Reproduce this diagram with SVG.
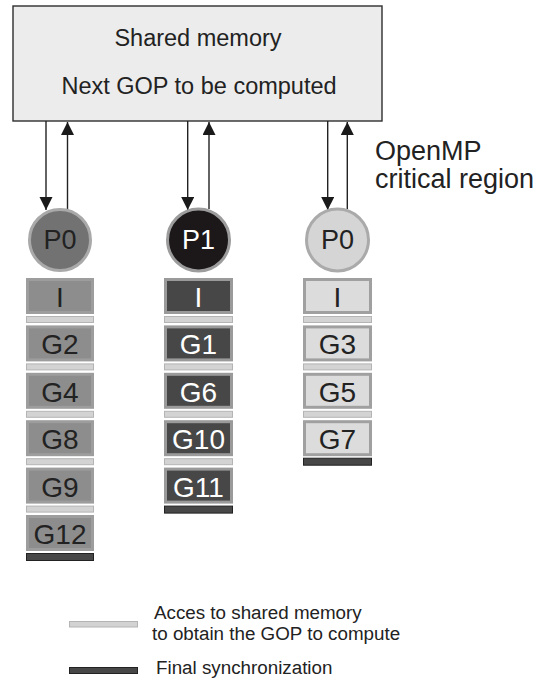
<svg xmlns="http://www.w3.org/2000/svg" width="555" height="681" viewBox="0 0 555 681">
  <style>
    text { font-family: "Liberation Sans", Arial, sans-serif; }
    .mem { fill: #ececec; stroke: #2e2e2e; stroke-width: 1.4; }
    .memtxt { font-size: 23.5px; fill: #222; text-anchor: middle; }
    .note { font-size: 27px; fill: #222; }
    .link { stroke: #222; stroke-width: 1.4; fill: none; marker-end: url(#tip); }
    .ptxt { font-size: 27px; text-anchor: middle; }
    .btxt { font-size: 28px; text-anchor: middle; }
    .c0 .node { fill: #727272; stroke: #a9a9a9; stroke-width: 3; }
    .c1 .node { fill: #1c1819; stroke: #9c9c9c; stroke-width: 3; }
    .c2 .node { fill: #d5d5d5; stroke: #aaaaaa; stroke-width: 3; }
    .c0 .blk { fill: #8d8d8d; stroke: #9d9d9d; stroke-width: 3; }
    .c1 .blk { fill: #474747; stroke: #9a9a9a; stroke-width: 3; }
    .c2 .blk { fill: #dcdcdc; stroke: #a0a0a0; stroke-width: 3; }
    .c0 text, .c2 text { fill: #222; }
    .c1 text { fill: #fff; }
    .acc { fill: #d3d3d3; stroke: #b4b4b4; stroke-width: 1; }
    .sync { fill: #474747; stroke: #222; stroke-width: 1; }
    .leg { font-size: 18.8px; fill: #222; }
  </style>
  <defs>
    <marker id="tip" markerUnits="userSpaceOnUse" markerWidth="14" markerHeight="14" refX="13" refY="6.5" orient="auto">
      <path d="M0,0 L13,6.5 L0,13 z" fill="#1a1a1a"/>
    </marker>
  </defs>

  <!-- shared memory -->
  <g id="shared-memory">
    <rect class="mem" x="13" y="6" width="369" height="115"/>
    <text class="memtxt" x="198" y="46">Shared memory</text>
    <text class="memtxt" x="199" y="94">Next GOP to be computed</text>
  </g>

  <g id="critical-label">
    <text class="note" x="375" y="160">OpenMP</text>
    <text class="note" x="375" y="188">critical region</text>
  </g>

  <!-- critical region accesses -->
  <g id="connectors">
    <line class="link" x1="46" y1="121" x2="46" y2="210"/>
    <line class="link" x1="67.5" y1="210" x2="67.5" y2="122"/>
    <line class="link" x1="187.7" y1="121" x2="187.7" y2="210"/>
    <line class="link" x1="209" y1="209" x2="209" y2="122"/>
    <line class="link" x1="327.7" y1="121" x2="327.7" y2="210"/>
    <line class="link" x1="347.3" y1="209" x2="347.3" y2="122"/>
  </g>

  <!-- thread 1 (P0) -->
  <g id="thread-a" class="c0">
    <circle class="node" cx="60" cy="240" r="30.5"/>
    <text class="ptxt" x="60" y="249">P0</text>
    <rect class="blk" x="27.5" y="279.5" width="65" height="33"/>
    <text class="btxt" x="60" y="307">I</text>
    <rect class="acc" x="26.5" y="316.5" width="67" height="6"/>
    <rect class="blk" x="27.5" y="326.9" width="65" height="33"/>
    <text class="btxt" x="60" y="354.4">G2</text>
    <rect class="acc" x="26.5" y="363.9" width="67" height="6"/>
    <rect class="blk" x="27.5" y="374.3" width="65" height="33"/>
    <text class="btxt" x="60" y="401.8">G4</text>
    <rect class="acc" x="26.5" y="411.3" width="67" height="6"/>
    <rect class="blk" x="27.5" y="421.7" width="65" height="33"/>
    <text class="btxt" x="60" y="449.2">G8</text>
    <rect class="acc" x="26.5" y="458.7" width="67" height="6"/>
    <rect class="blk" x="27.5" y="469.1" width="65" height="33"/>
    <text class="btxt" x="60" y="496.6">G9</text>
    <rect class="acc" x="26.5" y="506.1" width="67" height="6"/>
    <rect class="blk" x="27.5" y="516.5" width="65" height="33"/>
    <text class="btxt" x="60" y="544">G12</text>
    <rect class="sync" x="26.5" y="553.5" width="67" height="7"/>
  </g>

  <!-- thread 2 (P1) -->
  <g id="thread-b" class="c1">
    <circle class="node" cx="198.5" cy="240" r="31"/>
    <text class="ptxt" x="198.5" y="249">P1</text>
    <rect class="blk" x="165.5" y="279.5" width="66" height="33"/>
    <text class="btxt" x="198.5" y="307">I</text>
    <rect class="acc" x="164.5" y="316.5" width="68" height="6"/>
    <rect class="blk" x="165.5" y="326.9" width="66" height="33"/>
    <text class="btxt" x="198.5" y="354.4">G1</text>
    <rect class="acc" x="164.5" y="363.9" width="68" height="6"/>
    <rect class="blk" x="165.5" y="374.3" width="66" height="33"/>
    <text class="btxt" x="198.5" y="401.8">G6</text>
    <rect class="acc" x="164.5" y="411.3" width="68" height="6"/>
    <rect class="blk" x="165.5" y="421.7" width="66" height="33"/>
    <text class="btxt" x="198.5" y="449.2">G10</text>
    <rect class="acc" x="164.5" y="458.7" width="68" height="6"/>
    <rect class="blk" x="165.5" y="469.1" width="66" height="33"/>
    <text class="btxt" x="198.5" y="496.6">G11</text>
    <rect class="sync" x="164.5" y="506.1" width="68" height="7"/>
  </g>

  <!-- thread 3 (P0) -->
  <g id="thread-c" class="c2">
    <circle class="node" cx="337.5" cy="240" r="31"/>
    <text class="ptxt" x="337.5" y="249">P0</text>
    <rect class="blk" x="304.5" y="279.5" width="66" height="33"/>
    <text class="btxt" x="337.5" y="307">I</text>
    <rect class="acc" x="303.5" y="316.5" width="68" height="6"/>
    <rect class="blk" x="304.5" y="326.9" width="66" height="33"/>
    <text class="btxt" x="337.5" y="354.4">G3</text>
    <rect class="acc" x="303.5" y="363.9" width="68" height="6"/>
    <rect class="blk" x="304.5" y="374.3" width="66" height="33"/>
    <text class="btxt" x="337.5" y="401.8">G5</text>
    <rect class="acc" x="303.5" y="411.3" width="68" height="6"/>
    <rect class="blk" x="304.5" y="421.7" width="66" height="33"/>
    <text class="btxt" x="337.5" y="449.2">G7</text>
    <rect class="sync" x="303.5" y="458.2" width="68" height="7"/>
  </g>

  <!-- legend -->
  <g id="legend-access">
    <rect class="acc" x="69.5" y="621.5" width="68" height="5.5"/>
    <text class="leg" x="154" y="619">Acces to shared memory</text>
    <text class="leg" x="152" y="640">to obtain the GOP to compute</text>
  </g>
  <g id="legend-sync">
    <rect class="sync" x="69.5" y="667.5" width="68" height="6"/>
    <text class="leg" x="156" y="674">Final synchronization</text>
  </g>
</svg>
